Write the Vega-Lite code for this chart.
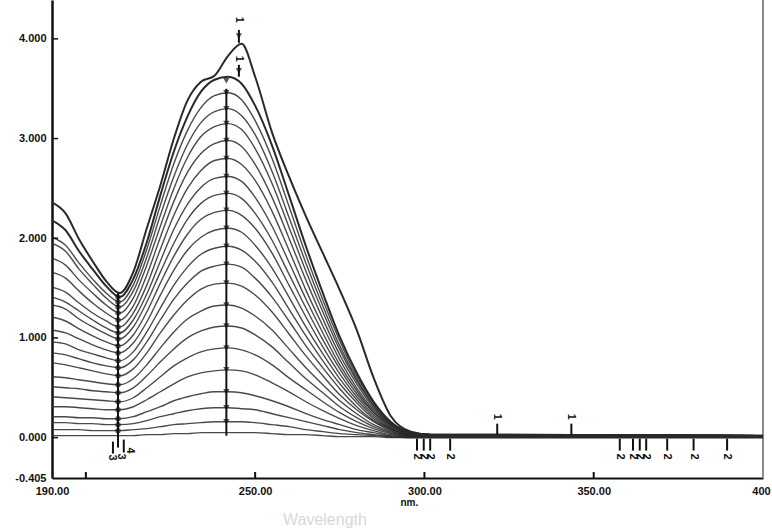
{
"$schema": "https://vega.github.io/schema/vega-lite/v6.json",
"width": 711, "height": 478,
"autosize": {"type": "none"},
"padding": {"left": 52, "top": 0, "right": 9, "bottom": 51},
"background": "white",
"config": {"view": {"stroke": null}, "axis": {"labelFont": "Liberation Sans", "labelFontWeight": "bold", "labelFontSize": 11, "labelColor": "#111", "grid": false, "ticks": false, "domainColor": "#111"}},
"title": {"text": "Wavelength", "orient": "bottom", "anchor": "start", "frame": "group", "dx": 231, "offset": 5, "fontSize": 16, "font": "Liberation Sans", "fontWeight": "normal", "color": "#d8d8d8", "baseline": "top"},
"datasets": {
"spectra": [
{"s":1,"w":190,"a":2.36},{"s":1,"w":194,"a":2.25},{"s":1,"w":198,"a":1.99},{"s":1,"w":202,"a":1.77},{"s":1,"w":206,"a":1.57},{"s":1,"w":210,"a":1.45},{"s":1,"w":214,"a":1.66},{"s":1,"w":218,"a":2.1},{"s":1,"w":222,"a":2.53},{"s":1,"w":226,"a":3.0},{"s":1,"w":230,"a":3.38},{"s":1,"w":234,"a":3.57},{"s":1,"w":238,"a":3.63},{"s":1,"w":242,"a":3.83},{"s":1,"w":246,"a":3.95},{"s":1,"w":250,"a":3.62},{"s":1,"w":255,"a":3.06},{"s":1,"w":260,"a":2.62},{"s":1,"w":265,"a":2.22},{"s":1,"w":270,"a":1.85},{"s":1,"w":275,"a":1.48},{"s":1,"w":280,"a":1.08},{"s":1,"w":285,"a":0.6},{"s":1,"w":290,"a":0.22},{"s":1,"w":296,"a":0.06},{"s":1,"w":302,"a":0.03},{"s":1,"w":400,"a":0.02},
{"s":2,"w":190,"a":2.18},{"s":2,"w":194,"a":2.08},{"s":2,"w":198,"a":1.87},{"s":2,"w":202,"a":1.69},{"s":2,"w":206,"a":1.52},{"s":2,"w":210,"a":1.41},{"s":2,"w":214,"a":1.59},{"s":2,"w":218,"a":1.96},{"s":2,"w":222,"a":2.43},{"s":2,"w":226,"a":2.87},{"s":2,"w":230,"a":3.22},{"s":2,"w":234,"a":3.47},{"s":2,"w":238,"a":3.59},{"s":2,"w":242,"a":3.62},{"s":2,"w":246,"a":3.55},{"s":2,"w":250,"a":3.33},{"s":2,"w":255,"a":2.93},{"s":2,"w":260,"a":2.43},{"s":2,"w":265,"a":1.92},{"s":2,"w":270,"a":1.45},{"s":2,"w":275,"a":1.01},{"s":2,"w":280,"a":0.65},{"s":2,"w":285,"a":0.36},{"s":2,"w":290,"a":0.16},{"s":2,"w":296,"a":0.05},{"s":2,"w":302,"a":0.03},{"s":2,"w":400,"a":0.02},
{"s":3,"w":190,"a":2.01},{"s":3,"w":194,"a":1.93},{"s":3,"w":198,"a":1.75},{"s":3,"w":202,"a":1.59},{"s":3,"w":206,"a":1.45},{"s":3,"w":210,"a":1.36},{"s":3,"w":214,"a":1.53},{"s":3,"w":218,"a":1.89},{"s":3,"w":222,"a":2.33},{"s":3,"w":226,"a":2.75},{"s":3,"w":230,"a":3.08},{"s":3,"w":234,"a":3.31},{"s":3,"w":238,"a":3.43},{"s":3,"w":242,"a":3.46},{"s":3,"w":246,"a":3.39},{"s":3,"w":250,"a":3.18},{"s":3,"w":255,"a":2.8},{"s":3,"w":260,"a":2.32},{"s":3,"w":265,"a":1.83},{"s":3,"w":270,"a":1.38},{"s":3,"w":275,"a":0.97},{"s":3,"w":280,"a":0.62},{"s":3,"w":285,"a":0.35},{"s":3,"w":290,"a":0.16},{"s":3,"w":296,"a":0.05},{"s":3,"w":302,"a":0.03},{"s":3,"w":400,"a":0.02},
{"s":4,"w":190,"a":1.95},{"s":4,"w":194,"a":1.87},{"s":4,"w":198,"a":1.69},{"s":4,"w":202,"a":1.54},{"s":4,"w":206,"a":1.4},{"s":4,"w":210,"a":1.31},{"s":4,"w":214,"a":1.47},{"s":4,"w":218,"a":1.81},{"s":4,"w":222,"a":2.23},{"s":4,"w":226,"a":2.62},{"s":4,"w":230,"a":2.94},{"s":4,"w":234,"a":3.16},{"s":4,"w":238,"a":3.27},{"s":4,"w":242,"a":3.3},{"s":4,"w":246,"a":3.23},{"s":4,"w":250,"a":3.04},{"s":4,"w":255,"a":2.67},{"s":4,"w":260,"a":2.21},{"s":4,"w":265,"a":1.75},{"s":4,"w":270,"a":1.32},{"s":4,"w":275,"a":0.92},{"s":4,"w":280,"a":0.59},{"s":4,"w":285,"a":0.33},{"s":4,"w":290,"a":0.15},{"s":4,"w":296,"a":0.05},{"s":4,"w":302,"a":0.03},{"s":4,"w":400,"a":0.02},
{"s":5,"w":190,"a":1.8},{"s":5,"w":194,"a":1.73},{"s":5,"w":198,"a":1.58},{"s":5,"w":202,"a":1.45},{"s":5,"w":206,"a":1.33},{"s":5,"w":210,"a":1.25},{"s":5,"w":214,"a":1.4},{"s":5,"w":218,"a":1.73},{"s":5,"w":222,"a":2.12},{"s":5,"w":226,"a":2.5},{"s":5,"w":230,"a":2.81},{"s":5,"w":234,"a":3.02},{"s":5,"w":238,"a":3.12},{"s":5,"w":242,"a":3.15},{"s":5,"w":246,"a":3.09},{"s":5,"w":250,"a":2.9},{"s":5,"w":255,"a":2.55},{"s":5,"w":260,"a":2.11},{"s":5,"w":265,"a":1.67},{"s":5,"w":270,"a":1.26},{"s":5,"w":275,"a":0.88},{"s":5,"w":280,"a":0.57},{"s":5,"w":285,"a":0.32},{"s":5,"w":290,"a":0.14},{"s":5,"w":296,"a":0.05},{"s":5,"w":302,"a":0.03},{"s":5,"w":400,"a":0.02},
{"s":6,"w":190,"a":1.66},{"s":6,"w":194,"a":1.6},{"s":6,"w":198,"a":1.47},{"s":6,"w":202,"a":1.35},{"s":6,"w":206,"a":1.25},{"s":6,"w":210,"a":1.18},{"s":6,"w":214,"a":1.32},{"s":6,"w":218,"a":1.63},{"s":6,"w":222,"a":2.01},{"s":6,"w":226,"a":2.37},{"s":6,"w":230,"a":2.66},{"s":6,"w":234,"a":2.85},{"s":6,"w":238,"a":2.95},{"s":6,"w":242,"a":2.98},{"s":6,"w":246,"a":2.92},{"s":6,"w":250,"a":2.74},{"s":6,"w":255,"a":2.41},{"s":6,"w":260,"a":2.0},{"s":6,"w":265,"a":1.58},{"s":6,"w":270,"a":1.19},{"s":6,"w":275,"a":0.83},{"s":6,"w":280,"a":0.54},{"s":6,"w":285,"a":0.3},{"s":6,"w":290,"a":0.13},{"s":6,"w":296,"a":0.04},{"s":6,"w":302,"a":0.03},{"s":6,"w":400,"a":0.02},
{"s":7,"w":190,"a":1.51},{"s":7,"w":194,"a":1.46},{"s":7,"w":198,"a":1.35},{"s":7,"w":202,"a":1.25},{"s":7,"w":206,"a":1.17},{"s":7,"w":210,"a":1.11},{"s":7,"w":214,"a":1.25},{"s":7,"w":218,"a":1.53},{"s":7,"w":222,"a":1.89},{"s":7,"w":226,"a":2.23},{"s":7,"w":230,"a":2.5},{"s":7,"w":234,"a":2.68},{"s":7,"w":238,"a":2.78},{"s":7,"w":242,"a":2.8},{"s":7,"w":246,"a":2.74},{"s":7,"w":250,"a":2.58},{"s":7,"w":255,"a":2.27},{"s":7,"w":260,"a":1.88},{"s":7,"w":265,"a":1.48},{"s":7,"w":270,"a":1.12},{"s":7,"w":275,"a":0.78},{"s":7,"w":280,"a":0.5},{"s":7,"w":285,"a":0.28},{"s":7,"w":290,"a":0.13},{"s":7,"w":296,"a":0.04},{"s":7,"w":302,"a":0.03},{"s":7,"w":400,"a":0.02},
{"s":8,"w":190,"a":1.41},{"s":8,"w":194,"a":1.36},{"s":8,"w":198,"a":1.27},{"s":8,"w":202,"a":1.18},{"s":8,"w":206,"a":1.1},{"s":8,"w":210,"a":1.05},{"s":8,"w":214,"a":1.18},{"s":8,"w":218,"a":1.44},{"s":8,"w":222,"a":1.77},{"s":8,"w":226,"a":2.09},{"s":8,"w":230,"a":2.34},{"s":8,"w":234,"a":2.51},{"s":8,"w":238,"a":2.6},{"s":8,"w":242,"a":2.62},{"s":8,"w":246,"a":2.57},{"s":8,"w":250,"a":2.41},{"s":8,"w":255,"a":2.12},{"s":8,"w":260,"a":1.76},{"s":8,"w":265,"a":1.39},{"s":8,"w":270,"a":1.05},{"s":8,"w":275,"a":0.73},{"s":8,"w":280,"a":0.47},{"s":8,"w":285,"a":0.26},{"s":8,"w":290,"a":0.12},{"s":8,"w":296,"a":0.04},{"s":8,"w":302,"a":0.03},{"s":8,"w":400,"a":0.02},
{"s":9,"w":190,"a":1.33},{"s":9,"w":194,"a":1.29},{"s":9,"w":198,"a":1.19},{"s":9,"w":202,"a":1.11},{"s":9,"w":206,"a":1.04},{"s":9,"w":210,"a":0.99},{"s":9,"w":214,"a":1.11},{"s":9,"w":218,"a":1.36},{"s":9,"w":222,"a":1.66},{"s":9,"w":226,"a":1.95},{"s":9,"w":230,"a":2.19},{"s":9,"w":234,"a":2.35},{"s":9,"w":238,"a":2.43},{"s":9,"w":242,"a":2.45},{"s":9,"w":246,"a":2.4},{"s":9,"w":250,"a":2.25},{"s":9,"w":255,"a":1.98},{"s":9,"w":260,"a":1.64},{"s":9,"w":265,"a":1.3},{"s":9,"w":270,"a":0.98},{"s":9,"w":275,"a":0.69},{"s":9,"w":280,"a":0.44},{"s":9,"w":285,"a":0.25},{"s":9,"w":290,"a":0.11},{"s":9,"w":296,"a":0.04},{"s":9,"w":302,"a":0.03},{"s":9,"w":400,"a":0.02},
{"s":10,"w":190,"a":1.21},{"s":10,"w":194,"a":1.17},{"s":10,"w":198,"a":1.09},{"s":10,"w":202,"a":1.02},{"s":10,"w":206,"a":0.96},{"s":10,"w":210,"a":0.92},{"s":10,"w":214,"a":1.03},{"s":10,"w":218,"a":1.26},{"s":10,"w":222,"a":1.55},{"s":10,"w":226,"a":1.82},{"s":10,"w":230,"a":2.04},{"s":10,"w":234,"a":2.19},{"s":10,"w":238,"a":2.26},{"s":10,"w":242,"a":2.28},{"s":10,"w":246,"a":2.23},{"s":10,"w":250,"a":2.1},{"s":10,"w":255,"a":1.85},{"s":10,"w":260,"a":1.53},{"s":10,"w":265,"a":1.21},{"s":10,"w":270,"a":0.91},{"s":10,"w":275,"a":0.64},{"s":10,"w":280,"a":0.41},{"s":10,"w":285,"a":0.23},{"s":10,"w":290,"a":0.1},{"s":10,"w":296,"a":0.03},{"s":10,"w":302,"a":0.03},{"s":10,"w":400,"a":0.02},
{"s":11,"w":190,"a":1.08},{"s":11,"w":194,"a":1.05},{"s":11,"w":198,"a":0.99},{"s":11,"w":202,"a":0.93},{"s":11,"w":206,"a":0.88},{"s":11,"w":210,"a":0.85},{"s":11,"w":214,"a":0.95},{"s":11,"w":218,"a":1.16},{"s":11,"w":222,"a":1.43},{"s":11,"w":226,"a":1.68},{"s":11,"w":230,"a":1.88},{"s":11,"w":234,"a":2.01},{"s":11,"w":238,"a":2.08},{"s":11,"w":242,"a":2.1},{"s":11,"w":246,"a":2.06},{"s":11,"w":250,"a":1.93},{"s":11,"w":255,"a":1.7},{"s":11,"w":260,"a":1.41},{"s":11,"w":265,"a":1.11},{"s":11,"w":270,"a":0.84},{"s":11,"w":275,"a":0.59},{"s":11,"w":280,"a":0.38},{"s":11,"w":285,"a":0.21},{"s":11,"w":290,"a":0.09},{"s":11,"w":296,"a":0.03},{"s":11,"w":302,"a":0.03},{"s":11,"w":400,"a":0.02},
{"s":12,"w":190,"a":0.96},{"s":12,"w":194,"a":0.94},{"s":12,"w":198,"a":0.88},{"s":12,"w":202,"a":0.84},{"s":12,"w":206,"a":0.8},{"s":12,"w":210,"a":0.77},{"s":12,"w":214,"a":0.86},{"s":12,"w":218,"a":1.06},{"s":12,"w":222,"a":1.3},{"s":12,"w":226,"a":1.53},{"s":12,"w":230,"a":1.71},{"s":12,"w":234,"a":1.84},{"s":12,"w":238,"a":1.9},{"s":12,"w":242,"a":1.92},{"s":12,"w":246,"a":1.88},{"s":12,"w":250,"a":1.77},{"s":12,"w":255,"a":1.56},{"s":12,"w":260,"a":1.29},{"s":12,"w":265,"a":1.02},{"s":12,"w":270,"a":0.77},{"s":12,"w":275,"a":0.54},{"s":12,"w":280,"a":0.35},{"s":12,"w":285,"a":0.19},{"s":12,"w":290,"a":0.09},{"s":12,"w":296,"a":0.03},{"s":12,"w":302,"a":0.03},{"s":12,"w":400,"a":0.02},
{"s":13,"w":190,"a":0.85},{"s":13,"w":194,"a":0.83},{"s":13,"w":198,"a":0.79},{"s":13,"w":202,"a":0.75},{"s":13,"w":206,"a":0.72},{"s":13,"w":210,"a":0.7},{"s":13,"w":214,"a":0.78},{"s":13,"w":218,"a":0.96},{"s":13,"w":222,"a":1.18},{"s":13,"w":226,"a":1.39},{"s":13,"w":230,"a":1.55},{"s":13,"w":234,"a":1.67},{"s":13,"w":238,"a":1.72},{"s":13,"w":242,"a":1.74},{"s":13,"w":246,"a":1.71},{"s":13,"w":250,"a":1.6},{"s":13,"w":255,"a":1.41},{"s":13,"w":260,"a":1.17},{"s":13,"w":265,"a":0.92},{"s":13,"w":270,"a":0.7},{"s":13,"w":275,"a":0.49},{"s":13,"w":280,"a":0.31},{"s":13,"w":285,"a":0.17},{"s":13,"w":290,"a":0.08},{"s":13,"w":296,"a":0.03},{"s":13,"w":302,"a":0.03},{"s":13,"w":400,"a":0.02},
{"s":14,"w":190,"a":0.75},{"s":14,"w":194,"a":0.73},{"s":14,"w":198,"a":0.7},{"s":14,"w":202,"a":0.67},{"s":14,"w":206,"a":0.64},{"s":14,"w":210,"a":0.62},{"s":14,"w":214,"a":0.69},{"s":14,"w":218,"a":0.85},{"s":14,"w":222,"a":1.05},{"s":14,"w":226,"a":1.23},{"s":14,"w":230,"a":1.38},{"s":14,"w":234,"a":1.49},{"s":14,"w":238,"a":1.54},{"s":14,"w":242,"a":1.55},{"s":14,"w":246,"a":1.52},{"s":14,"w":250,"a":1.43},{"s":14,"w":255,"a":1.26},{"s":14,"w":260,"a":1.04},{"s":14,"w":265,"a":0.82},{"s":14,"w":270,"a":0.62},{"s":14,"w":275,"a":0.43},{"s":14,"w":280,"a":0.28},{"s":14,"w":285,"a":0.16},{"s":14,"w":290,"a":0.07},{"s":14,"w":296,"a":0.02},{"s":14,"w":302,"a":0.02},{"s":14,"w":400,"a":0.02},
{"s":15,"w":190,"a":0.61},{"s":15,"w":194,"a":0.6},{"s":15,"w":198,"a":0.58},{"s":15,"w":202,"a":0.56},{"s":15,"w":206,"a":0.54},{"s":15,"w":210,"a":0.53},{"s":15,"w":214,"a":0.59},{"s":15,"w":218,"a":0.73},{"s":15,"w":222,"a":0.9},{"s":15,"w":226,"a":1.06},{"s":15,"w":230,"a":1.19},{"s":15,"w":234,"a":1.27},{"s":15,"w":238,"a":1.32},{"s":15,"w":242,"a":1.33},{"s":15,"w":246,"a":1.3},{"s":15,"w":250,"a":1.22},{"s":15,"w":255,"a":1.08},{"s":15,"w":260,"a":0.89},{"s":15,"w":265,"a":0.7},{"s":15,"w":270,"a":0.53},{"s":15,"w":275,"a":0.37},{"s":15,"w":280,"a":0.24},{"s":15,"w":285,"a":0.13},{"s":15,"w":290,"a":0.06},{"s":15,"w":296,"a":0.02},{"s":15,"w":302,"a":0.02},{"s":15,"w":400,"a":0.015},
{"s":16,"w":190,"a":0.51},{"s":16,"w":194,"a":0.5},{"s":16,"w":198,"a":0.49},{"s":16,"w":202,"a":0.47},{"s":16,"w":206,"a":0.46},{"s":16,"w":210,"a":0.45},{"s":16,"w":214,"a":0.5},{"s":16,"w":218,"a":0.62},{"s":16,"w":222,"a":0.76},{"s":16,"w":226,"a":0.89},{"s":16,"w":230,"a":1.0},{"s":16,"w":234,"a":1.07},{"s":16,"w":238,"a":1.11},{"s":16,"w":242,"a":1.12},{"s":16,"w":246,"a":1.1},{"s":16,"w":250,"a":1.03},{"s":16,"w":255,"a":0.91},{"s":16,"w":260,"a":0.75},{"s":16,"w":265,"a":0.59},{"s":16,"w":270,"a":0.45},{"s":16,"w":275,"a":0.31},{"s":16,"w":280,"a":0.2},{"s":16,"w":285,"a":0.11},{"s":16,"w":290,"a":0.05},{"s":16,"w":296,"a":0.02},{"s":16,"w":302,"a":0.02},{"s":16,"w":400,"a":0.015},
{"s":17,"w":190,"a":0.41},{"s":17,"w":194,"a":0.4},{"s":17,"w":198,"a":0.39},{"s":17,"w":202,"a":0.38},{"s":17,"w":206,"a":0.37},{"s":17,"w":210,"a":0.36},{"s":17,"w":214,"a":0.4},{"s":17,"w":218,"a":0.5},{"s":17,"w":222,"a":0.61},{"s":17,"w":226,"a":0.72},{"s":17,"w":230,"a":0.8},{"s":17,"w":234,"a":0.86},{"s":17,"w":238,"a":0.89},{"s":17,"w":242,"a":0.9},{"s":17,"w":246,"a":0.88},{"s":17,"w":250,"a":0.83},{"s":17,"w":255,"a":0.73},{"s":17,"w":260,"a":0.6},{"s":17,"w":265,"a":0.48},{"s":17,"w":270,"a":0.36},{"s":17,"w":275,"a":0.25},{"s":17,"w":280,"a":0.16},{"s":17,"w":285,"a":0.09},{"s":17,"w":290,"a":0.04},{"s":17,"w":296,"a":0.01},{"s":17,"w":302,"a":0.01},{"s":17,"w":400,"a":0.01},
{"s":18,"w":190,"a":0.31},{"s":18,"w":194,"a":0.31},{"s":18,"w":198,"a":0.3},{"s":18,"w":202,"a":0.29},{"s":18,"w":206,"a":0.28},{"s":18,"w":210,"a":0.28},{"s":18,"w":214,"a":0.31},{"s":18,"w":218,"a":0.38},{"s":18,"w":222,"a":0.46},{"s":18,"w":226,"a":0.54},{"s":18,"w":230,"a":0.61},{"s":18,"w":234,"a":0.65},{"s":18,"w":238,"a":0.67},{"s":18,"w":242,"a":0.68},{"s":18,"w":246,"a":0.67},{"s":18,"w":250,"a":0.63},{"s":18,"w":255,"a":0.55},{"s":18,"w":260,"a":0.46},{"s":18,"w":265,"a":0.36},{"s":18,"w":270,"a":0.27},{"s":18,"w":275,"a":0.19},{"s":18,"w":280,"a":0.12},{"s":18,"w":285,"a":0.07},{"s":18,"w":290,"a":0.03},{"s":18,"w":296,"a":0.01},{"s":18,"w":302,"a":0.01},{"s":18,"w":400,"a":0.01},
{"s":19,"w":190,"a":0.21},{"s":19,"w":194,"a":0.21},{"s":19,"w":198,"a":0.2},{"s":19,"w":202,"a":0.2},{"s":19,"w":206,"a":0.19},{"s":19,"w":210,"a":0.19},{"s":19,"w":214,"a":0.21},{"s":19,"w":218,"a":0.26},{"s":19,"w":222,"a":0.31},{"s":19,"w":226,"a":0.37},{"s":19,"w":230,"a":0.41},{"s":19,"w":234,"a":0.44},{"s":19,"w":238,"a":0.46},{"s":19,"w":242,"a":0.46},{"s":19,"w":246,"a":0.45},{"s":19,"w":250,"a":0.42},{"s":19,"w":255,"a":0.37},{"s":19,"w":260,"a":0.31},{"s":19,"w":265,"a":0.24},{"s":19,"w":270,"a":0.18},{"s":19,"w":275,"a":0.13},{"s":19,"w":280,"a":0.08},{"s":19,"w":285,"a":0.05},{"s":19,"w":290,"a":0.02},{"s":19,"w":296,"a":0.01},{"s":19,"w":302,"a":0.01},{"s":19,"w":400,"a":0.01},
{"s":20,"w":190,"a":0.15},{"s":20,"w":194,"a":0.15},{"s":20,"w":198,"a":0.14},{"s":20,"w":202,"a":0.14},{"s":20,"w":206,"a":0.13},{"s":20,"w":210,"a":0.13},{"s":20,"w":214,"a":0.14},{"s":20,"w":218,"a":0.17},{"s":20,"w":222,"a":0.21},{"s":20,"w":226,"a":0.24},{"s":20,"w":230,"a":0.27},{"s":20,"w":234,"a":0.29},{"s":20,"w":238,"a":0.3},{"s":20,"w":242,"a":0.3},{"s":20,"w":246,"a":0.29},{"s":20,"w":250,"a":0.28},{"s":20,"w":255,"a":0.24},{"s":20,"w":260,"a":0.2},{"s":20,"w":265,"a":0.16},{"s":20,"w":270,"a":0.12},{"s":20,"w":275,"a":0.08},{"s":20,"w":280,"a":0.05},{"s":20,"w":285,"a":0.03},{"s":20,"w":290,"a":0.01},{"s":20,"w":296,"a":0.0},{"s":20,"w":302,"a":0.0},{"s":20,"w":400,"a":0.0},
{"s":21,"w":190,"a":0.08},{"s":21,"w":194,"a":0.08},{"s":21,"w":198,"a":0.08},{"s":21,"w":202,"a":0.07},{"s":21,"w":206,"a":0.07},{"s":21,"w":210,"a":0.07},{"s":21,"w":214,"a":0.08},{"s":21,"w":218,"a":0.09},{"s":21,"w":222,"a":0.11},{"s":21,"w":226,"a":0.13},{"s":21,"w":230,"a":0.14},{"s":21,"w":234,"a":0.15},{"s":21,"w":238,"a":0.16},{"s":21,"w":242,"a":0.16},{"s":21,"w":246,"a":0.16},{"s":21,"w":250,"a":0.15},{"s":21,"w":255,"a":0.13},{"s":21,"w":260,"a":0.11},{"s":21,"w":265,"a":0.08},{"s":21,"w":270,"a":0.06},{"s":21,"w":275,"a":0.04},{"s":21,"w":280,"a":0.03},{"s":21,"w":285,"a":0.02},{"s":21,"w":290,"a":0.01},{"s":21,"w":296,"a":0.0},{"s":21,"w":302,"a":0.0},{"s":21,"w":400,"a":0.0},
{"s":22,"w":190,"a":0.02},{"s":22,"w":194,"a":0.02},{"s":22,"w":198,"a":0.02},{"s":22,"w":202,"a":0.02},{"s":22,"w":206,"a":0.02},{"s":22,"w":210,"a":0.02},{"s":22,"w":214,"a":0.02},{"s":22,"w":218,"a":0.03},{"s":22,"w":222,"a":0.03},{"s":22,"w":226,"a":0.04},{"s":22,"w":230,"a":0.04},{"s":22,"w":234,"a":0.05},{"s":22,"w":238,"a":0.05},{"s":22,"w":242,"a":0.05},{"s":22,"w":246,"a":0.05},{"s":22,"w":250,"a":0.05},{"s":22,"w":255,"a":0.04},{"s":22,"w":260,"a":0.03},{"s":22,"w":265,"a":0.03},{"s":22,"w":270,"a":0.02},{"s":22,"w":275,"a":0.01},{"s":22,"w":280,"a":0.01},{"s":22,"w":285,"a":0.01},{"s":22,"w":290,"a":0.0},{"s":22,"w":296,"a":0.0},{"s":22,"w":302,"a":0.0},{"s":22,"w":400,"a":0.0}
],
"peakMarks": [
{"w":241.5,"a":3.58},{"w":241.5,"a":3.46},{"w":241.5,"a":3.3},{"w":241.5,"a":3.15},{"w":241.5,"a":2.98},{"w":241.5,"a":2.8},{"w":241.5,"a":2.62},{"w":241.5,"a":2.45},{"w":241.5,"a":2.28},{"w":241.5,"a":2.1},{"w":241.5,"a":1.92},{"w":241.5,"a":1.74},{"w":241.5,"a":1.55},{"w":241.5,"a":1.33},{"w":241.5,"a":1.12},{"w":241.5,"a":0.9},{"w":241.5,"a":0.68},{"w":241.5,"a":0.46},{"w":241.5,"a":0.3},{"w":241.5,"a":0.16},{"w":245.2,"a":4.03},{"w":245.2,"a":3.68}
],
"troughMarks": [
{"w":209.5,"a":1.41},{"w":209.5,"a":1.36},{"w":209.5,"a":1.31},{"w":209.5,"a":1.25},{"w":209.5,"a":1.18},{"w":209.5,"a":1.11},{"w":209.5,"a":1.05},{"w":209.5,"a":0.99},{"w":209.5,"a":0.92},{"w":209.5,"a":0.85},{"w":209.5,"a":0.77},{"w":209.5,"a":0.7},{"w":209.5,"a":0.62},{"w":209.5,"a":0.53},{"w":209.5,"a":0.45},{"w":209.5,"a":0.36},{"w":209.5,"a":0.28},{"w":209.5,"a":0.19},{"w":209.5,"a":0.13},{"w":209.5,"a":0.07}
],
"vrules": [
{"w":241.5,"a":0.02,"b":3.5},{"w":209.5,"a":-0.1,"b":1.45},
{"w":245.2,"a":3.96,"b":4.09},{"w":245.2,"a":3.62,"b":3.74},
{"w":200,"a":-0.405,"b":-0.345},{"w":250,"a":-0.405,"b":-0.345},{"w":300,"a":-0.405,"b":-0.345},{"w":350,"a":-0.405,"b":-0.345},
{"w":297.8,"a":-0.13,"b":-0.01},{"w":299.8,"a":-0.13,"b":-0.01},{"w":301.7,"a":-0.13,"b":-0.01},{"w":307.6,"a":-0.13,"b":-0.01},{"w":357.7,"a":-0.13,"b":-0.01},{"w":361.6,"a":-0.13,"b":-0.01},{"w":363.6,"a":-0.13,"b":-0.01},{"w":365.5,"a":-0.13,"b":-0.01},{"w":371.7,"a":-0.13,"b":-0.01},{"w":379.5,"a":-0.13,"b":-0.01},{"w":389.4,"a":-0.13,"b":-0.01},
{"w":321.5,"a":0.03,"b":0.14},{"w":343.4,"a":0.03,"b":0.14},
{"w":208.0,"a":-0.16,"b":-0.04},{"w":211.2,"a":-0.15,"b":-0.02}
],
"hticks": [
{"w":190,"w2":191.8,"a":0},{"w":190,"w2":191.8,"a":1},{"w":190,"w2":191.8,"a":2},{"w":190,"w2":191.8,"a":3},{"w":190,"w2":191.8,"a":4}
],
"border": [{"w":400,"a":-0.405,"b":4.39}],
"labels": [
{"w":245.2,"a":4.19,"t":"1"},{"w":245.2,"a":3.8,"t":"1"},{"w":321.5,"a":0.21,"t":"1"},{"w":343.4,"a":0.21,"t":"1"},
{"w":297.8,"a":-0.19,"t":"2"},{"w":299.8,"a":-0.19,"t":"2"},{"w":301.7,"a":-0.19,"t":"2"},{"w":307.6,"a":-0.19,"t":"2"},{"w":357.7,"a":-0.19,"t":"2"},{"w":361.6,"a":-0.19,"t":"2"},{"w":363.6,"a":-0.19,"t":"2"},{"w":365.5,"a":-0.19,"t":"2"},{"w":371.7,"a":-0.19,"t":"2"},{"w":379.5,"a":-0.19,"t":"2"},{"w":389.4,"a":-0.19,"t":"2"},
{"w":207.6,"a":-0.2,"t":"3"},{"w":210.4,"a":-0.19,"t":"3"},{"w":213.0,"a":-0.13,"t":"4"}
]
},
"encoding": {
"x": {"field": "w", "type": "quantitative", "scale": {"domain": [190, 400], "nice": false, "zero": false},
 "axis": {"values": [190, 250, 300, 350, 400], "labelExpr": "datum.value == 400 ? '400' : format(datum.value, '.2f')", "labelOffset": {"condition": {"test": "datum.value == 400", "value": -2}, "value": 0}, "domainWidth": 2, "labelPadding": 7, "labelFlush": false, "labelOverlap": false, "labelBound": false,
 "title": "nm.", "titleX": 348, "titleY": 24, "titleAlign": "left", "titleAnchor": "start", "titleBaseline": "middle", "titleFontSize": 10, "titleFontWeight": "bold", "titleFont": "Liberation Sans", "titleColor": "#111"}},
"y": {"field": "a", "type": "quantitative", "scale": {"domain": [-0.405, 4.39], "nice": false, "zero": false},
 "axis": {"values": [-0.405, 0, 1, 2, 3, 4], "labelExpr": "replace(format(datum.value, '.3f'), '\u2212', '-')", "domainWidth": 2.5, "labelPadding": 6, "title": null, "labelOverlap": false, "labelBound": false}}
},
"layer": [
{"data": {"name": "border"}, "mark": {"type": "rule", "color": "#8a8a8a", "strokeWidth": 2}, "encoding": {"y2": {"field": "b"}}},
{"data": {"name": "spectra"}, "mark": {"type": "line", "interpolate": "monotone", "color": "#2a2a2a"},
 "encoding": {"detail": {"field": "s", "type": "nominal"}, "strokeWidth": {"condition": {"test": "datum.s <= 2", "value": 2}, "value": 1.4}, "opacity": {"condition": {"test": "datum.s <= 2", "value": 1}, "value": 0.85}}},
{"data": {"name": "vrules"}, "mark": {"type": "rule", "color": "#111", "strokeWidth": 2}, "encoding": {"y2": {"field": "b"}}},
{"data": {"name": "hticks"}, "mark": {"type": "rule", "color": "#111", "strokeWidth": 1.5}, "encoding": {"x2": {"field": "w2"}}},
{"data": {"name": "peakMarks"}, "mark": {"type": "point", "shape": "triangle-down", "filled": true, "color": "#111", "size": 40}, "encoding": {}},
{"data": {"name": "troughMarks"}, "mark": {"type": "point", "shape": "circle", "filled": false, "color": "#111", "strokeWidth": 1.5, "size": 16}, "encoding": {}},
{"data": {"name": "labels"}, "mark": {"type": "text", "angle": 90, "font": "Liberation Sans", "fontWeight": "bold", "fontSize": 11, "color": "#111"}, "encoding": {"text": {"field": "t"}}}
]
}
